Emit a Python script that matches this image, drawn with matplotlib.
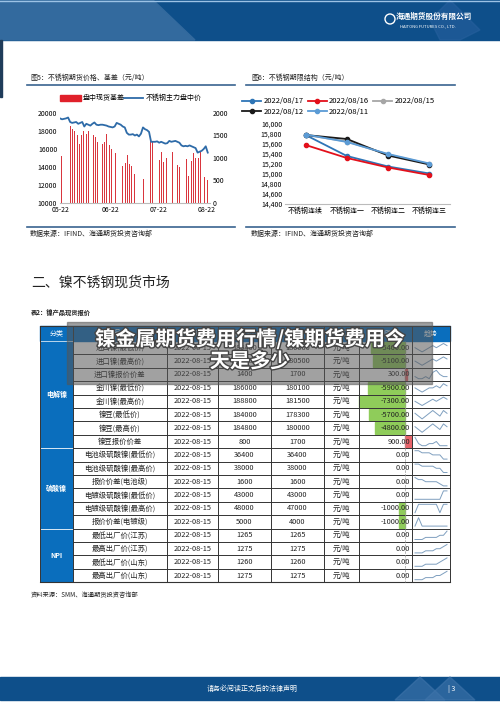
import numpy as np
import matplotlib
matplotlib.use("Agg")
import matplotlib.pyplot as plt
from matplotlib.patches import Rectangle, Polygon
import matplotlib.patheffects as pe

plt.rcParams['font.family'] = ['Noto Sans CJK SC', 'DejaVu Sans']

# ---------------- data ----------------
price_line = [19400,19300,19350,19400,19500,19000,18900,18950,19000,18800,18900,19000,18500,18800,
              18700,18600,18800,18950,18700,18650,18700,18700,18650,18600,18500,18450,18400,18500,
              18900,18800,18700,18500,18400,17800,17600,17600,17650,17500,17600,17400,17700,18400,
              18200,18100,17900,16800,16800,16800,16850,16700,16800,16700,16600,16650,16900,16800,
              16850,16900,16800,16700,16400,16300,16350,16300,16400,16300,16200,16100,15600,15700,
              15800,16000,16300,15600]
basis_bars = [960,1040,0,0,1140,1600,1700,1640,1600,0,1500,1300,1500,1600,1650,1540,1600,0,1530,1500,
              1470,1360,0,0,1300,1360,1540,1400,1290,1190,0,1100,880,0,0,820,700,880,1060,860,830,770,
              640,0,0,860,760,540,0,0,630,1430,1350,0,0,990,960,1140,900,960,1010,0,0,1140,960,0,840,
              800,690,0,0,980,600,1000,940,1100,1010,1170,1010,1140,0,580,540,500]
date_ticks = ['05-22', '06-22', '07-22', '08-22']
date_tick_pos = [0.007, 0.34, 0.66, 0.98]

contracts = ['不锈钢连续', '不锈钢连一', '不锈钢连二', '不锈钢连三']
curve_labels = ['2022/08/17', '2022/08/16', '2022/08/15', '2022/08/12', '2022/08/11']
curve_values = [
    [15780, 15360, 15150, 15010],
    [15580, 15320, 15130, 14980],
    [15780, 15650, 15390, 15200],
    [15780, 15700, 15370, 15190],
    [15790, 15640, 15400, 15210],
]
curve_colors = ['#2e75b6', '#e3101b', '#a6a6a6', '#1a1a1a', '#5b9bd5']

table_header = ['分类', '品名', '日期', '最新价', '前值', '单位', '涨跌', '趋势']
groups = [('电解镍', 8), ('硫酸镍', 6), ('NPI', 4)]
names = ['进口镍(最低价)', '进口镍(最高价)', '进口镍报价价差', '金川镍(最低价)', '金川镍(最高价)',
         '镍豆(最低价)', '镍豆(最高价)', '镍豆报价价差',
         '电池级硫酸镍(最低价)', '电池级硫酸镍(最高价)', '报价价差(电池级)',
         '电镀级硫酸镍(最低价)', '电镀级硫酸镍(最高价)', '报价价差(电镀级)',
         '最低出厂价(江苏)', '最高出厂价(江苏)', '最低出厂价(山东)', '最高出厂价(山东)']
dates = ['2022-08-15'] * 18
latest = [185400, 185600, 1400, 186000, 188800, 184000, 184800, 800,
          36400, 38000, 1600, 43000, 48000, 5000, 1265, 1275, 1260, 1275]
prev = [180000, 180500, 1700, 180100, 181500, 178300, 180000, 1700,
        36400, 38000, 1600, 43000, 47000, 4000, 1265, 1275, 1260, 1275]
change = [-5400, -5100, 300, -5900, -7300, -5700, -4800, 900,
          0, 0, 0, 0, -1000, -1000, 0, 0, 0, 0]
sparks = [
    [3,2,1,2,3,4,3,4,5,4], [3,2,1,2,3,4,3,4,5,4], [2,1,1,2,1,4,5,3,2,2],
    [3,2,1,2,3,3,4,3,5,4], [3,2,1,2,3,4,3,4,5,4], [4,3,2,3,4,5,4,3,5,4],
    [4,3,2,3,4,5,4,3,5,4], [5,2,1,1,2,2,3,1,1,1],
    [5,5,4,4,4,3,3,3,1,1], [5,5,4,4,4,4,3,3,1,1], [5,4,4,3,3,3,3,2,1,1],
    [1,1,1,1,1,1,1,1,5,5], [1,5,5,5,5,5,5,1,5,5], [1,5,1,1,1,1,1,1,1,1],
    [1,1,1,2,2,2,2,3,3,5], [1,1,1,2,2,2,3,3,4,5], [1,1,1,2,2,2,2,3,4,5], [1,1,1,2,2,2,3,3,4,5],
]

# ---------------- figure ----------------
W, H = 500, 707
fig = plt.figure(figsize=(5, 7.07), dpi=100)
bg = fig.add_axes([0, 0, 1, 1])
bg.set_xlim(0, W); bg.set_ylim(H, 0); bg.axis('off')

def fax(x0, y0, x1, y1):
    return fig.add_axes([x0 / W, 1 - y1 / H, (x1 - x0) / W, (y1 - y0) / H])

# header band
bg.add_patch(Rectangle((0, 0), W, 40, color='#0e4f8a'))
bg.add_patch(Polygon([(0, 0), (153, 0), (195, 40), (0, 40)], color='#336a9e'))
bg.add_patch(Polygon([(430, 20), (450, 0), (480, 30), (460, 40), (440, 40)], color='#2a62a0', alpha=0.5))
bg.plot([0, W], [0.5, 0.5], color='#9cc2e5', lw=1)
bg.text(396, 16, '海通期货股份有限公司', color='white', fontsize=5.5, weight='bold', va='center')
bg.text(400, 26, 'HAITONG FUTURES CO., LTD.', color='white', fontsize=3, va='center')
bg.add_patch(plt.Circle((390, 19), 5, fill=False, ec='white', lw=1))
bg.add_patch(Rectangle((0, 40), 2, 57, color='#1f3c5a'))

# footer band
bg.add_patch(Rectangle((0, 677), W, 23, color='#0e4f8a'))
bg.add_patch(Polygon([(395, 700), (420, 677), (445, 700)], color='#3f74aa', alpha=0.6))
bg.add_patch(Polygon([(425, 700), (450, 677), (475, 700)], color='#3f74aa', alpha=0.6))
bg.text(252, 689, '请务必阅读正文后的法律声明', color='white', fontsize=5, ha='center', va='center')
bg.text(452, 689, '| 3', color='white', fontsize=5, ha='center', va='center')

# chart titles / rules
bg.text(30, 78, '图5：不锈钢期货价格、基差（元/吨）', fontsize=5, va='center', color='#222')
bg.text(251, 78, '图6：不锈钢期限结构（元/吨）', fontsize=5, va='center', color='#222')
for x0, x1 in [(27, 235), (246, 455)]:
    bg.plot([x0, x1], [85, 85], color='#3a6390', lw=1.2)
    bg.plot([x0, x1], [227, 227], color='#3a6390', lw=1.2)
bg.text(30, 234, '数据来源：IFIND、海通期货投资咨询部', fontsize=5, va='center', color='#222')
bg.text(251, 234, '数据来源：IFIND、海通期货投资咨询部', fontsize=5, va='center', color='#222')

# ---------- chart 5 ----------
ax1 = fax(60, 113, 210, 203)
ax2 = ax1.twinx()
xb = np.linspace(0, 0.985, len(basis_bars))
ax2.bar(xb, basis_bars, width=0.005, color='#d9363e')
xl = np.linspace(0, 0.985, len(price_line))
ax1.plot(xl, price_line, color='#2e6ba8', lw=1.3)
ax1.set_zorder(ax2.get_zorder() + 1); ax1.patch.set_visible(False)
ax1.set_ylim(10000, 20000); ax2.set_ylim(0, 2000)
ax1.set_yticks(range(10000, 20001, 2000)); ax2.set_yticks([0, 500, 1000, 1500, 2000])
ax1.set_xlim(0, 1)
ax1.set_xticks(date_tick_pos); ax1.set_xticklabels(date_ticks)
for a in (ax1, ax2):
    a.tick_params(labelsize=5, length=0, pad=2)
    for s in a.spines.values():
        s.set_visible(False)
ax1.spines['bottom'].set_visible(True); ax1.spines['bottom'].set_color('#bbb')
bg.add_patch(Rectangle((60, 95), 21, 6, color='#e0202a'))
bg.text(83, 98, '盘中现货基差', fontsize=5, va='center')
bg.plot([124, 143], [98, 98], color='#2e6ba8', lw=1.3)
bg.text(146, 98, '不锈钢主力盘中价', fontsize=5, va='center')

# ---------- chart 6 ----------
ax3 = fax(285, 124, 450, 204)
handles = []
for lab, vals, c in zip(curve_labels, curve_values, curve_colors):
    h, = ax3.plot(range(len(contracts)), vals, color=c, lw=1.3, marker='o', ms=3, label=lab)
    handles.append(h)
ax3.set_ylim(14400, 16000)
ax3.set_yticks(range(14400, 16001, 200))
ax3.set_yticklabels([f'{v:,}' for v in range(14400, 16001, 200)])
ax3.set_xlim(-0.5, 3.5)
ax3.set_xticks(range(4)); ax3.set_xticklabels(contracts)
ax3.tick_params(labelsize=5, length=0, pad=2)
for s in ['top', 'right', 'left']:
    ax3.spines[s].set_visible(False)
ax3.spines['bottom'].set_color('#bbb')
order = [0, 3, 1, 4, 2]
ax3.legend([handles[i] for i in order], [curve_labels[i] for i in order],
           loc='lower left', bbox_to_anchor=(-0.3, 1.02), ncol=3, fontsize=5.5, frameon=False,
           handlelength=2.5, columnspacing=0.5, handletextpad=0.3, labelspacing=0.3)

# ---------- section headings ----------
bg.text(31, 283, '二、镍不锈钢现货市场', fontsize=10, va='center', color='#222')
bg.text(31, 313, '表2：镍产品现货报价', fontsize=4.5, va='center', color='#222', weight='bold')
bg.text(31, 595, '资料来源：SMM、海通期货投资咨询部', fontsize=4.5, va='center', color='#222')

# ---------- table ----------
cols = [40, 73, 167, 218, 271, 324, 359, 412, 450]
top, hh, rh = 326, 15, 13.4
blue = '#0a6ebd'
bg.add_patch(Rectangle((cols[0], top), cols[-1] - cols[0], hh, color=blue))
for i, t in enumerate(table_header):
    bg.text((cols[i] + cols[i + 1]) / 2, top + hh / 2, t, color='white', fontsize=5, ha='center', va='center')
y0 = top + hh
r = 0
for g, n in groups:
    bg.add_patch(Rectangle((cols[0], y0 + r * rh), cols[1] - cols[0], n * rh, color=blue, ec='white', lw=0.5))
    bg.text((cols[0] + cols[1]) / 2, y0 + (r + n / 2) * rh, g, color='white', fontsize=5, ha='center', va='center', weight='bold')
    r += n
scale = 46 / 7300
zero_x = 405
for i in range(len(names)):
    yc = y0 + (i + 0.5) * rh
    yt = y0 + i * rh
    bg.plot([cols[1], cols[-1]], [yt + rh, yt + rh], color='#333', lw=0.7)
    v = change[i]
    if v < 0:
        bg.add_patch(Rectangle((zero_x + v * scale, yt + 1), -v * scale, rh - 2, color='#8fcc5a'))
    elif v > 0:
        bg.add_patch(Rectangle((zero_x, yt + 1), v * scale, rh - 2, color='#e8636a'))
    vals = [names[i], dates[i], str(latest[i]), str(prev[i]), '元/吨']
    for j, t in enumerate(vals):
        bg.text((cols[j + 1] + cols[j + 2]) / 2, yc, t, fontsize=5.3, ha='center', va='center', color='#222')
    bg.text(410, yc, f'{v:.2f}', fontsize=5.3, ha='right', va='center', color='#222')
    s = np.array(sparks[i], float)
    sx = np.linspace(cols[7] + 3, cols[8] - 3, len(s))
    sy = yt + rh - 2.5 - (s - s.min()) / max(s.max() - s.min(), 1) * (rh - 5)
    bg.plot(sx, sy, color='#7f9fbf', lw=0.7)
bg.plot([cols[0], cols[-1]], [top, top], color='#333', lw=0.8)
bg.plot([cols[0], cols[-1]], [y0 + 18 * rh, y0 + 18 * rh], color='#333', lw=0.8)
for x in cols:
    bg.plot([x, x], [top, y0 + 18 * rh], color='#333', lw=0.7)
bg.plot([zero_x, zero_x], [y0, y0 + 18 * rh], color='#999', lw=0.5, ls='--')

# ---------- overlay banner ----------
bg.add_patch(Rectangle((67, 322), 365, 62, color='#555555', alpha=0.55, zorder=10))
for txt, yy in [('镍金属期货费用行情/镍期货费用今', 339), ('天是多少', 361)]:
    bg.text(250, yy, txt, fontsize=14.5, weight='bold', color='white', ha='center', va='center', zorder=11,
            path_effects=[pe.withStroke(linewidth=2, foreground='#444')])

fig.savefig('out.png', dpi=100)
